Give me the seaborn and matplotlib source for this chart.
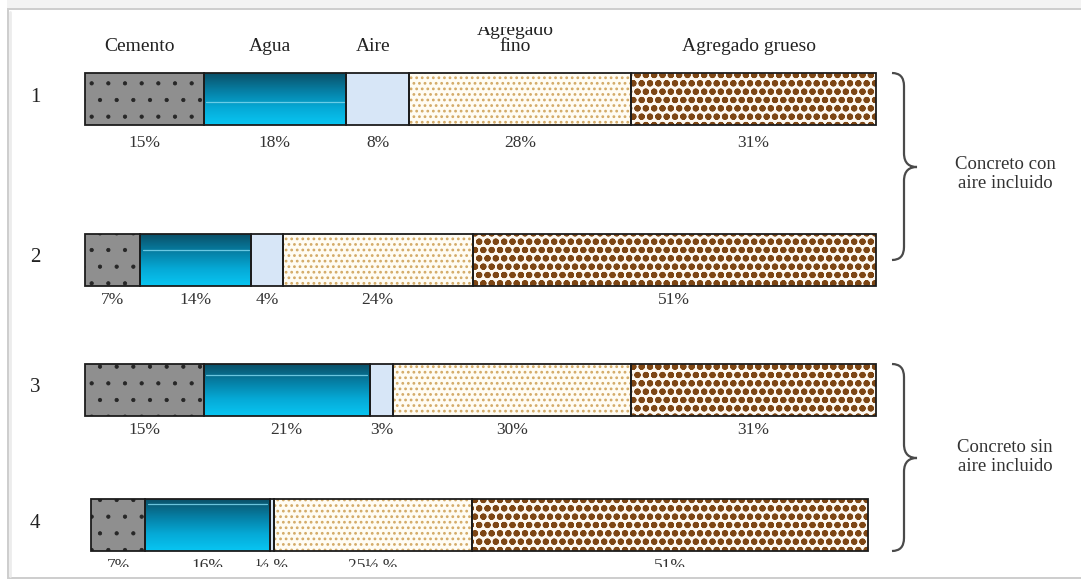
import numpy as np
import matplotlib
matplotlib.use("Agg")
import matplotlib.pyplot as plt
import seaborn as sns
from matplotlib.path import Path
from matplotlib.patches import PathPatch, Rectangle
from matplotlib.colors import LinearSegmentedColormap
from matplotlib.transforms import Bbox, TransformedBbox

# ---- data: volume proportions (%) of each concrete mix ----
components = ["Cemento", "Agua", "Aire", "Agregado\nfino", "Agregado grueso"]
mixes = ["1", "2", "3", "4"]
cemento = [15, 7, 15, 7]
agua = [18, 14, 21, 16]
aire = [8, 4, 3, 0.5]
fino = [28, 24, 30, 25.5]
grueso = [31, 51, 31, 51]
group_labels = ["Concreto con\naire incluido", "Concreto sin\naire incluido"]

# ---- layout (figure pixels, measured from the top-left corner) ----
W, H = 1081, 580
X0, PX_PER_PCT = 85, 7.91
ROW_Y = [99, 260, 390, 525]
ROW_SHIFT = [0, 0, 0, 0.76]
ROW_SCALE = [1, 1, 1, 0.982]
LABEL_DY = [44, 40, 40, 41]
WATER_SHINE = [0.56, 0.30, 0.21, 0.10]

STYLES = [
    dict(face="#8f8f8f", hatch=".", hcolor="#262626", hlw=0.6),
    dict(face="#0590b8", hatch=None, hcolor="#0590b8", hlw=1.0),
    dict(face="#d7e6f7", hatch=None, hcolor="#d7e6f7", hlw=1.0),
    dict(face="#fffcf3", hatch="...", hcolor="#d3aa66", hlw=1.2),
    dict(face="#fdf8f0", hatch="oo", hcolor="#7d4614", hlw=2.1),
]

sns.set_theme(style="white")
plt.rcParams["font.family"] = ["Liberation Serif", "DejaVu Serif"]

fig = plt.figure(figsize=(W / 100, H / 100), dpi=100)
fig.patch.set_facecolor("white")

# background frame and braces drawn in pixel coordinates
bg = fig.add_axes([0, 0, 1, 1], zorder=0)
bg.set_xlim(0, W)
bg.set_ylim(H, 0)
bg.axis("off")
bg.add_patch(Rectangle((7, 0), W, 9, facecolor="#f3f3f3", edgecolor="none"))
bg.add_patch(Rectangle((7.5, 9), W, 569, facecolor="white",
                       edgecolor="#cdcdcd", linewidth=1.4))
bg.plot([10, 10], [12, 576], color="#ececec", lw=2.0)

ax = fig.add_axes([0, 0, 1, 1], zorder=1)
ax.set_facecolor("none")

shift = np.asarray(ROW_SHIFT, float)
scale = np.asarray(ROW_SCALE, float)
values = [np.asarray(v, float) for v in (cemento, agua, aire, fino, grueso)]

cum = np.zeros(len(mixes))
seg_left, seg_width, water_bars = [], [], []
for k, (vals, st) in enumerate(zip(values, STYLES)):
    widths = vals * scale
    lefts = shift + cum * scale
    n0 = len(ax.patches)
    with plt.rc_context({"hatch.linewidth": st["hlw"]}):
        sns.barplot(x=widths, y=ROW_Y, orient="y", native_scale=True,
                    width=0.4, errorbar=None, left=lefts,
                    color=st["face"], saturation=1,
                    facecolor=st["face"], edgecolor=st["hcolor"],
                    linewidth=0, hatch=st["hatch"], ax=ax, zorder=2)
    bars = ax.patches[n0:]
    for p in bars:
        if hasattr(p, "set_hatch_linewidth"):
            p.set_hatch_linewidth(st["hlw"])
    if k == 1:
        water_bars = list(bars)
    seg_left.append(lefts)
    seg_width.append(widths)
    cum = cum + vals

# water: vertical teal-to-cyan gradient with a thin light streak
cmap = LinearSegmentedColormap.from_list(
    "agua", ["#0a5068", "#067ea3", "#05a9d6", "#08c6f3"])
grad = np.linspace(0, 1, 256).reshape(-1, 1)
for i, p in enumerate(water_bars):
    x0, y0, w, h = p.get_x(), p.get_y(), p.get_width(), p.get_height()
    ytop, ybot = min(y0, y0 + h), max(y0, y0 + h)
    im = ax.imshow(grad, cmap=cmap, extent=(x0, x0 + w, ybot, ytop),
                   aspect="auto", interpolation="bicubic", zorder=2.5)
    im.set_clip_path(p)
    ys = ytop + WATER_SHINE[i] * (ybot - ytop)
    ax.plot([x0 + 0.3, x0 + w - 0.3], [ys, ys], color="#7cd6ee",
            lw=0.9, alpha=0.85, zorder=2.6)

# segment outlines
for k in range(len(values)):
    sns.barplot(x=seg_width[k], y=ROW_Y, orient="y", native_scale=True,
                width=0.4, errorbar=None, left=seg_left[k],
                color="#1c1c1c", saturation=1,
                facecolor="none", edgecolor="#1c1c1c", linewidth=1.3,
                ax=ax, zorder=4)

ax.set_xlim(-X0 / PX_PER_PCT, (W - X0) / PX_PER_PCT)
ax.set_ylim(H, 0)
ax.axis("off")

clip = TransformedBbox(Bbox.from_extents(0, 13 / H, 1, 553 / H), fig.transFigure)


def pct(v):
    if float(v).is_integer():
        return f"{int(v)}%"
    whole = int(v)
    return (f"{whole}" if whole else "") + "½ %"


texts = []
# column headers, centred over the first mix
for k, name in enumerate(components):
    cx = seg_left[k][0] + seg_width[k][0] / 2 - 0.6
    texts.append(ax.text(cx, 55, name, ha="center", va="bottom",
                         fontsize=14, color="#222222", linespacing=0.95))

# row numbers and percentage labels
for i, m in enumerate(mixes):
    texts.append(ax.text(-6.3, ROW_Y[i] - 2, m, ha="center", va="center",
                         fontsize=15, color="#222222"))
    for k in range(len(values)):
        cx = seg_left[k][i] + seg_width[k][i] / 2
        texts.append(ax.text(cx, ROW_Y[i] + LABEL_DY[i], pct(values[k][i]),
                             ha="center", va="center", fontsize=12.5,
                             color="#333333"))

for t in texts:
    t.set_clip_on(True)
    t.set_clip_box(clip)


def brace(axis, ytop, ybot, ymid, x0=892, xm=904, xt=917):
    verts = [(x0, ytop), (xm, ytop), (xm, ytop + 13),
             (xm, ymid - 14),
             (xm, ymid - 3), (xt - 7, ymid), (xt, ymid),
             (xt - 7, ymid), (xm, ymid + 3), (xm, ymid + 14),
             (xm, ybot - 13),
             (xm, ybot), (x0, ybot)]
    codes = [Path.MOVETO, Path.CURVE3, Path.CURVE3,
             Path.LINETO,
             Path.CURVE4, Path.CURVE4, Path.CURVE4,
             Path.CURVE4, Path.CURVE4, Path.CURVE4,
             Path.LINETO,
             Path.CURVE3, Path.CURVE3]
    axis.add_patch(PathPatch(Path(verts, codes), facecolor="none",
                             edgecolor="#4a4a4a", lw=1.6, zorder=3))


brace(bg, 73, 260, 167)
brace(bg, 364, 551, 458)
bg.text(1005, 174, group_labels[0], ha="center", va="center",
        fontsize=13.5, color="#333333", linespacing=1.2)
bg.text(1005, 457, group_labels[1], ha="center", va="center",
        fontsize=13.5, color="#333333", linespacing=1.2)

fig.savefig("out.png", dpi=100, facecolor="white")
